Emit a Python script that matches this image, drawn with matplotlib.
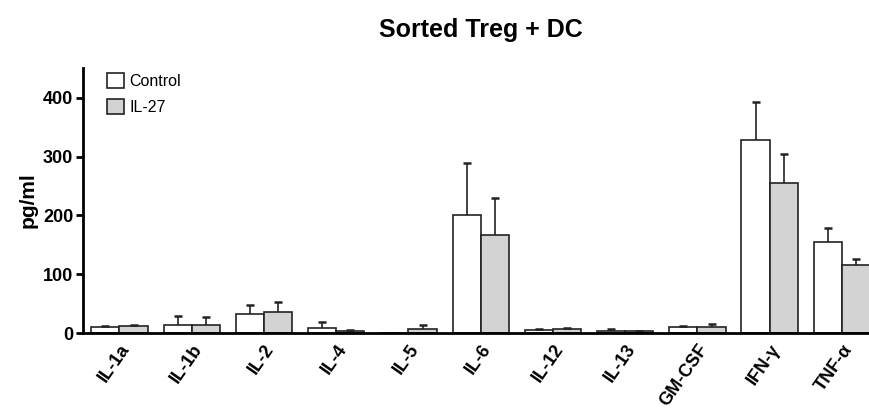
import numpy as np
import matplotlib
matplotlib.use("Agg")
import matplotlib.pyplot as plt
from matplotlib.transforms import ScaledTranslation

plt.rcParams['font.family'] = ['Liberation Sans', 'DejaVu Sans']

# datos
citoquinas = ["IL-1a", "IL-1b", "IL-2", "IL-4", "IL-5", "IL-6", "IL-12", "IL-13", "GM-CSF", "IFN-γ", "TNF-α"]
control = [10, 14, 32, 9, 0, 201, 5, 4, 10, 329, 155]
control_err = [2, 15, 16, 9, 0, 88, 2, 2, 2, 65, 23]
il27 = [12, 13, 35, 3, 6, 167, 6, 3, 11, 256, 115]
il27_err = [2, 15, 17, 2, 8, 62, 3, 1, 5, 49, 11]

fig = plt.figure(figsize=(8.69, 4.16), dpi=100)
ax = fig.add_axes([0.0955, 0.1995, 0.9045, 0.637])

x = np.arange(len(citoquinas))
ancho = 0.39
err_estilo = dict(ecolor="#222222", elinewidth=1.2, capsize=2.8, capthick=1.8)

barras_c = ax.bar(x - ancho / 2, control, ancho, color="white", edgecolor="#222222", linewidth=1.2,
                  yerr=[np.zeros(len(control)), control_err], error_kw=err_estilo,
                  label="Control", zorder=2)
barras_i = ax.bar(x + ancho / 2, il27, ancho, color="#d3d3d3", edgecolor="#222222", linewidth=1.2,
                  yerr=[np.zeros(len(il27)), il27_err], error_kw=err_estilo,
                  label="IL-27", zorder=2)

# solo el error hacia arriba: ocultar la tapa inferior
for barras in (barras_c, barras_i):
    tapas = barras.errorbar.lines[1]
    tapas[0].set_visible(False)

ax.set_xlim(-0.505, 10.375)
ax.set_ylim(0, 451)
ax.set_yticks([0, 100, 200, 300, 400])
ax.set_xticks(x)
ax.set_xticklabels(citoquinas, rotation=55, ha="right", va="top", rotation_mode="anchor",
                   fontsize=13, fontweight="bold")
desplazar = ScaledTranslation(0.11, 0, fig.dpi_scale_trans)
for lbl in ax.get_xticklabels():
    lbl.set_transform(lbl.get_transform() + desplazar)
for lbl in ax.get_yticklabels():
    lbl.set_fontweight("bold")
    lbl.set_fontsize(13)
ax.tick_params(axis="x", length=0, pad=6)
ax.tick_params(axis="y", length=5, width=2, pad=2)

for lado in ["top", "right"]:
    ax.spines[lado].set_visible(False)
ax.spines["left"].set_linewidth(2)
ax.spines["bottom"].set_linewidth(2)

ax.set_ylabel("pg/ml", fontsize=15, fontweight="bold")
ax.yaxis.set_label_coords(-0.058, 0.5)
fig.text(0.553, 0.911, "Sorted Treg + DC", fontsize=18, fontweight="bold", ha="center", va="baseline")

ax.legend(loc="upper left", bbox_to_anchor=(0.012, 1.035), frameon=False, fontsize=11.5,
          handlelength=1.1, handleheight=1.1, handletextpad=0.3, labelspacing=0.6)

fig.savefig("out.png", dpi=100)
